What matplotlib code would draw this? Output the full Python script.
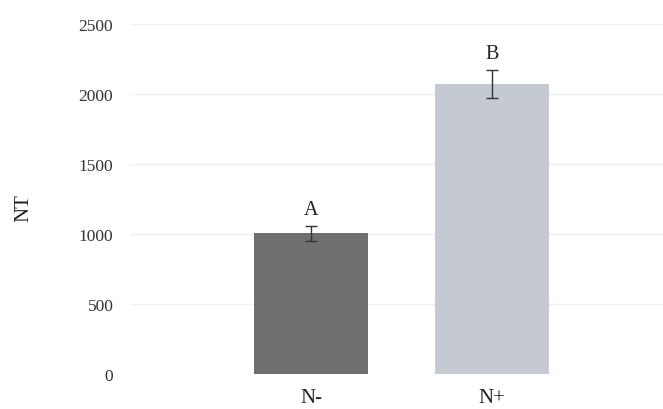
import matplotlib.pyplot as plt

categories = ['N-', 'N+']
means = [1005, 2075]
errors = [55, 100]
letters = ['A', 'B']
bar_colors = ['#6f6f72', '#c5cad2']

plt.rcParams['font.family'] = ['Liberation Serif', 'DejaVu Serif']

fig = plt.figure(figsize=(6.63, 4.10), dpi=100)
ax = fig.add_axes([130 / 663, 35 / 410, 533 / 663, 350 / 410])

x = list(range(len(categories)))
ax.bar(x, means, width=0.635, color=bar_colors, zorder=2)
ax.errorbar(x, means, yerr=errors, fmt='none', ecolor='#333333',
            elinewidth=1.0, capsize=4.5, capthick=1.0, zorder=3)

for xi, m, e, lab in zip(x, means, errors, letters):
    ax.annotate(lab, (xi, m + e), xytext=(0, 5), textcoords='offset points',
                ha='center', va='bottom', fontsize=14.5, color='#222222')

ax.set_xlim(-1.0, 1.945)
ax.set_ylim(0, 2500)
ax.set_yticks([0, 500, 1000, 1500, 2000, 2500])
ax.set_xticks(x)
ax.set_xticklabels(categories)
ax.yaxis.grid(True, color='#eceff4', linewidth=1.0, zorder=0)
ax.set_axisbelow(True)

for s in ax.spines.values():
    s.set_visible(False)
ax.tick_params(axis='both', length=0)
ax.tick_params(axis='y', labelsize=12.5, pad=12, labelcolor='#333333')
ax.tick_params(axis='x', labelsize=15, pad=10, labelcolor='#222222')

ax.set_ylabel('NT', fontsize=15, color='#222222')
ax.yaxis.set_label_coords(-(130 - 33) / 533, (375 - 208) / 350)

fig.savefig('out.png', dpi=100)
